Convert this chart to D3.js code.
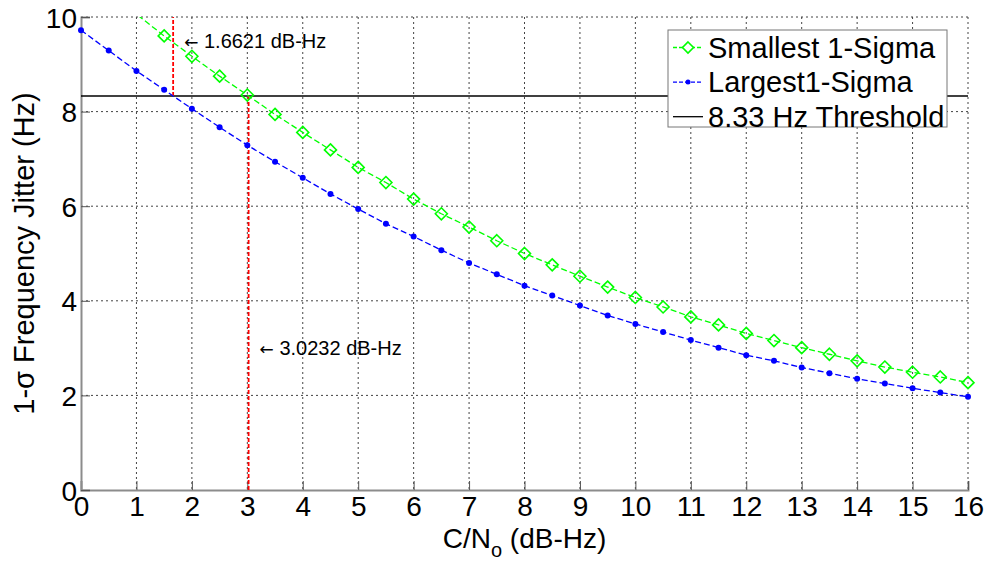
<!DOCTYPE html>
<html>
<head>
<meta charset="utf-8">
<script src="https://cdn.jsdelivr.net/npm/d3@7"></script>
<style>
  html, body { margin: 0; padding: 0; background: #fff; }
  svg { display: block; font-family: "Liberation Sans", Arial, Helvetica, sans-serif; }
</style>
</head>
<body>
<svg id="chart" width="989" height="561"></svg>
<script>
// C/No values (dB-Hz) at which the jitter was evaluated
const cnr = [0, 0.5, 1, 1.5, 2, 2.5, 3, 3.5, 4, 4.5, 5, 5.5, 6, 6.5, 7, 7.5, 8,
             8.5, 9, 9.5, 10, 10.5, 11, 11.5, 12, 12.5, 13, 13.5, 14, 14.5, 15, 15.5, 16];
// 1-sigma frequency jitter (Hz), smallest case
const smallestSigma = [10.97, 10.5, 10.06, 9.60, 9.17, 8.75, 8.35, 7.94, 7.56, 7.19, 6.82,
                       6.50, 6.15, 5.84, 5.56, 5.27, 5.00, 4.76, 4.52, 4.29, 4.07, 3.87,
                       3.66, 3.49, 3.31, 3.16, 3.01, 2.87, 2.73, 2.60, 2.49, 2.39, 2.27];
// 1-sigma frequency jitter (Hz), largest case
const largestSigma = [9.72, 9.29, 8.86, 8.46, 8.06, 7.67, 7.29, 6.94, 6.60, 6.26, 5.94,
                      5.63, 5.36, 5.07, 4.80, 4.56, 4.32, 4.11, 3.90, 3.69, 3.51, 3.34,
                      3.17, 3.01, 2.85, 2.73, 2.59, 2.47, 2.35, 2.25, 2.15, 2.06, 1.97];
const threshold = 8.33;
// C/No where each curve crosses the threshold: [largest, smallest]
const crossings = [1.6621, 3.0232];
const xTicks = [0, 1, 2, 3, 4, 5, 6, 7, 8, 9, 10, 11, 12, 13, 14, 15, 16];
const yTicks = [0, 2, 4, 6, 8, 10];
const legendLabels = ["Smallest 1-Sigma", "Largest1-Sigma", "8.33 Hz Threshold"];

const svg = d3.select("#chart");
const plot = { left: 81, right: 968, top: 17, bottom: 490 };

const x = d3.scaleLinear().domain([0, 16]).range([plot.left, plot.right]);
const y = d3.scaleLinear().domain([0, 10]).range([plot.bottom, plot.top]);

const GREEN = "#00ff00", BLUE = "#0000ff", RED = "#ff0000";
const FONT = 28;

svg.append("defs").append("clipPath").attr("id", "plotClip")
  .append("rect")
  .attr("x", plot.left).attr("y", plot.top)
  .attr("width", plot.right - plot.left).attr("height", plot.bottom - plot.top);

// dotted grid
const grid = svg.append("g");
grid.selectAll("line.gx").data(xTicks.slice(1)).join("line")
  .attr("x1", d => x(d)).attr("x2", d => x(d))
  .attr("y1", plot.top).attr("y2", plot.bottom)
  .attr("stroke", "#444").attr("stroke-width", 1).attr("stroke-dasharray", "2,3");
grid.selectAll("line.gy").data(yTicks.slice(1)).join("line")
  .attr("y1", d => y(d)).attr("y2", d => y(d))
  .attr("x1", plot.left).attr("x2", plot.right)
  .attr("stroke", "#444").attr("stroke-width", 1).attr("stroke-dasharray", "2,3");

// axes
const xAxis = d3.axisBottom(x).tickValues(xTicks).tickSize(-9).tickPadding(6).tickFormat(d3.format("d"));
const yAxis = d3.axisLeft(y).tickValues(yTicks).tickSize(-9).tickPadding(4).tickFormat(d3.format("d"));

const gx = svg.append("g").attr("transform", `translate(0,${plot.bottom})`).call(xAxis);
const gy = svg.append("g").attr("transform", `translate(${plot.left},0)`).call(yAxis);
[gx, gy].forEach(g => {
  g.select(".domain").attr("stroke", "#8c8c8c").attr("stroke-width", 2);
  g.selectAll(".tick line").attr("stroke", "#555");
  g.selectAll(".tick text").attr("fill", "#000").attr("font-size", FONT)
    .attr("font-family", "Liberation Sans, Arial, sans-serif");
});
gx.selectAll(".tick text").attr("dy", "0.71em");
gy.selectAll(".tick text").attr("dy", "0.36em");

// threshold line
svg.append("line")
  .attr("x1", plot.left).attr("x2", plot.right)
  .attr("y1", y(threshold)).attr("y2", y(threshold))
  .attr("stroke", "#000").attr("stroke-width", 1.6);

// red markers at the crossing points
const clipped = svg.append("g").attr("clip-path", "url(#plotClip)");
clipped.append("line")
  .attr("x1", x(crossings[0])).attr("x2", x(crossings[0]))
  .attr("y1", y(threshold)).attr("y2", y(10))
  .attr("stroke", RED).attr("stroke-width", 1.8).attr("stroke-dasharray", "4,2");
clipped.append("line")
  .attr("x1", x(crossings[1])).attr("x2", x(crossings[1]))
  .attr("y1", y(threshold)).attr("y2", y(0))
  .attr("stroke", RED).attr("stroke-width", 1.8).attr("stroke-dasharray", "4,2");

// series
const line = d3.line().x(d => x(d[0])).y(d => y(d[1]));
const greenPts = cnr.map((c, i) => [c, smallestSigma[i]]);
const bluePts = cnr.map((c, i) => [c, largestSigma[i]]);

clipped.append("path").datum(greenPts).attr("d", line)
  .attr("fill", "none").attr("stroke", GREEN).attr("stroke-width", 1.3).attr("stroke-dasharray", "6,3");
clipped.append("path").datum(bluePts).attr("d", line)
  .attr("fill", "none").attr("stroke", BLUE).attr("stroke-width", 1.3).attr("stroke-dasharray", "6,3");

const diamond = (cx, cy, r) => `M${cx},${cy - r}L${cx + r},${cy}L${cx},${cy + r}L${cx - r},${cy}Z`;

svg.append("g").selectAll("path").data(greenPts.filter(d => d[1] <= 10)).join("path")
  .attr("d", d => diamond(x(d[0]), y(d[1]), 6))
  .attr("fill", "none").attr("stroke", GREEN).attr("stroke-width", 1.6);
svg.append("g").selectAll("circle").data(bluePts.filter(d => d[1] <= 10)).join("circle")
  .attr("cx", d => x(d[0])).attr("cy", d => y(d[1])).attr("r", 3)
  .attr("fill", BLUE);

// annotations: left arrow pointing to each crossing
function annotate(cx, cy, value) {
  const t = svg.append("text")
    .attr("x", x(cx) + 11).attr("y", y(cy)).attr("dy", "0.35em")
    .attr("font-size", 20).attr("fill", "#000");
  t.append("tspan").attr("font-family", "DejaVu Sans, sans-serif").attr("font-size", 17).text("\u2190");
  t.append("tspan").text(" " + value.toFixed(4) + " dB-Hz");
}
annotate(crossings[0], 9.5, crossings[0]);
annotate(crossings[1], 3, crossings[1]);

// axis labels
const xl = svg.append("text")
  .attr("x", (plot.left + plot.right) / 2).attr("y", 548)
  .attr("text-anchor", "middle").attr("font-size", FONT).attr("fill", "#000");
xl.append("tspan").text("C/N");
xl.append("tspan").attr("font-size", 20).attr("dy", 9).text("o");
xl.append("tspan").attr("dy", -9).text(" (dB-Hz)");

svg.append("text")
  .attr("transform", `translate(34,${(plot.top + plot.bottom) / 2}) rotate(-90)`)
  .attr("text-anchor", "middle").attr("font-size", 29).attr("fill", "#000")
  .text("1-\u03c3 Frequency Jitter (Hz)");

// legend
const lg = svg.append("g");
lg.append("rect")
  .attr("x", 668).attr("y", 30).attr("width", 279).attr("height", 97)
  .attr("fill", "#fff").attr("stroke", "#777").attr("stroke-width", 1);
const rowY = i => 47.5 + i * 34.6;
const rows = lg.selectAll("g").data(legendLabels).join("g");
rows.append("text")
  .attr("x", 708).attr("y", (d, i) => rowY(i)).attr("dy", "0.35em")
  .attr("font-size", 29).attr("fill", "#000").text(d => d);
lg.append("line").attr("x1", 673).attr("x2", 703).attr("y1", rowY(0)).attr("y2", rowY(0))
  .attr("stroke", GREEN).attr("stroke-width", 1.3).attr("stroke-dasharray", "4,2");
lg.append("path").attr("d", diamond(688, rowY(0), 5.5))
  .attr("fill", "#fff").attr("stroke", GREEN).attr("stroke-width", 1.6);
lg.append("line").attr("x1", 673).attr("x2", 703).attr("y1", rowY(1)).attr("y2", rowY(1))
  .attr("stroke", BLUE).attr("stroke-width", 1.3).attr("stroke-dasharray", "4,2");
lg.append("circle").attr("cx", 688).attr("cy", rowY(1)).attr("r", 2.5).attr("fill", BLUE);
lg.append("line").attr("x1", 673).attr("x2", 703).attr("y1", rowY(2)).attr("y2", rowY(2))
  .attr("stroke", "#000").attr("stroke-width", 1.3);
</script>
</body>
</html>
